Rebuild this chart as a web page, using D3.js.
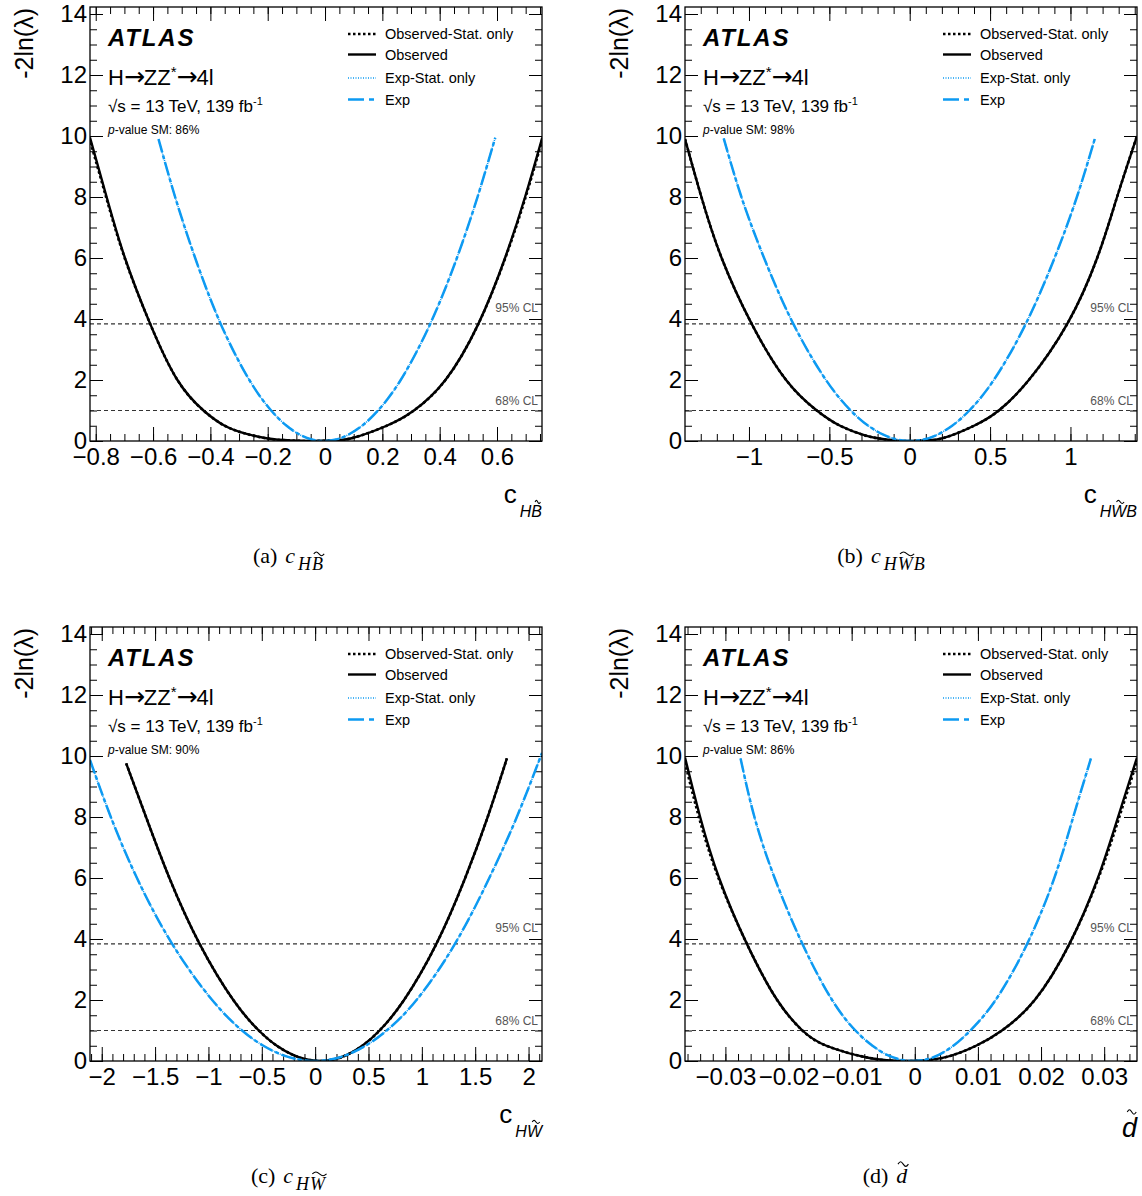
<!DOCTYPE html>
<html><head><meta charset="utf-8">
<script src="https://cdn.jsdelivr.net/npm/d3@7"></script>
<style>body{margin:0;background:#fff} svg{display:block}</style>
</head><body>
<svg id="c" width="1142" height="1196"></svg>
<script>
const SANS = "'Liberation Sans', Arial, Helvetica, sans-serif";
const SERIF = "'Liberation Serif', 'Times New Roman', serif";
const BLUE = "#0d9af2";

// ---------- data: [x, -2ln(lambda)] ----------
// (a) c_HB~
const obsA = [[-0.82,9.95],[-0.762,8],[-0.698,6],[-0.61,3.84],[-0.515,2],[-0.424,1],[-0.35,0.5],[-0.28,0.25],[-0.2,0.08],[-0.12,0.015],[-0.05,0],[0.02,0.012],[0.093,0.09],[0.215,0.5],[0.31,1],[0.42,2],[0.535,3.84],[0.628,6],[0.698,8],[0.758,9.95]];
const obsStatA = [[-0.823,9.95],[-0.764,8],[-0.699,6],[-0.61,3.84],[-0.515,2],[-0.424,1],[-0.35,0.5],[-0.28,0.25],[-0.2,0.08],[-0.12,0.015],[-0.05,0],[0.02,0.012],[0.093,0.09],[0.215,0.5],[0.31,1],[0.42,2],[0.535,3.84],[0.629,6],[0.7,8],[0.76,9.95]];
const expA = [[-0.581,9.9],[-0.523,8],[-0.453,6],[-0.364,3.84],[-0.264,2],[-0.188,1],[-0.134,0.5],[-0.087,0.2],[-0.046,0.05],[-0.005,0],[0.038,0.05],[0.08,0.2],[0.129,0.5],[0.185,1],[0.264,2],[0.367,3.84],[0.46,6],[0.532,8],[0.594,9.95]];
const expStatA = [[-0.581,9.9],[-0.523,8],[-0.453,6],[-0.364,3.84],[-0.264,2],[-0.188,1],[-0.134,0.5],[-0.087,0.2],[-0.046,0.05],[-0.005,0],[0.038,0.05],[0.08,0.2],[0.129,0.5],[0.185,1],[0.264,2],[0.367,3.84],[0.46,6],[0.532,8],[0.594,9.95]];

// (b) c_HW~B
const obsB = [[-1.398,9.9],[-1.296,8],[-1.17,6],[-0.983,3.84],[-0.769,2],[-0.578,1],[-0.433,0.5],[-0.288,0.2],[-0.2,0.09],[-0.1,0.02],[0,0],[0.1,0.022],[0.212,0.1],[0.4,0.5],[0.554,1],[0.741,2],[0.98,3.84],[1.166,6],[1.29,8],[1.414,10]];
const obsStatB = [[-1.398,9.9],[-1.296,8],[-1.17,6],[-0.983,3.84],[-0.769,2],[-0.578,1],[-0.433,0.5],[-0.288,0.2],[-0.2,0.09],[-0.1,0.02],[0,0],[0.1,0.022],[0.212,0.1],[0.4,0.5],[0.554,1],[0.741,2],[0.98,3.84],[1.166,6],[1.29,8],[1.414,10]];
const expB = [[-1.157,9.92],[-1.047,8],[-0.906,6],[-0.724,3.84],[-0.521,2],[-0.367,1],[-0.258,0.5],[-0.161,0.2],[-0.078,0.05],[0.005,0],[0.087,0.05],[0.169,0.2],[0.264,0.5],[0.371,1],[0.523,2],[0.722,3.84],[0.901,6],[1.04,8],[1.152,9.92]];
const expStatB = [[-1.157,9.92],[-1.047,8],[-0.906,6],[-0.724,3.84],[-0.521,2],[-0.367,1],[-0.258,0.5],[-0.161,0.2],[-0.078,0.05],[0.005,0],[0.087,0.05],[0.169,0.2],[0.264,0.5],[0.371,1],[0.523,2],[0.722,3.84],[0.901,6],[1.04,8],[1.152,9.92]];

// (c) c_HW~
const obsC = [[-1.771,9.76],[-1.585,8],[-1.366,6],[-1.083,3.84],[-0.767,2],[-0.528,1],[-0.359,0.5],[-0.208,0.2],[-0.079,0.05],[0.05,0],[0.174,0.05],[0.298,0.2],[0.442,0.5],[0.604,1],[0.833,2],[1.136,3.84],[1.406,6],[1.617,8],[1.797,9.92]];
const obsStatC = [[-1.771,9.76],[-1.585,8],[-1.366,6],[-1.083,3.84],[-0.767,2],[-0.528,1],[-0.359,0.5],[-0.208,0.2],[-0.079,0.05],[0.05,0],[0.174,0.05],[0.298,0.2],[0.442,0.5],[0.604,1],[0.833,2],[1.136,3.84],[1.406,6],[1.617,8],[1.797,9.92]];
const expC = [[-2.11,9.87],[-1.915,8],[-1.67,6],[-1.34,3.84],[-0.965,2],[-0.685,1],[-0.485,0.5],[-0.31,0.2],[-0.155,0.05],[-0.005,0],[0.145,0.05],[0.297,0.2],[0.472,0.5],[0.67,1],[0.95,2],[1.31,3.84],[1.632,6],[1.89,8],[2.126,10.1]];
const expStatC = [[-2.11,9.87],[-1.915,8],[-1.67,6],[-1.34,3.84],[-0.965,2],[-0.685,1],[-0.485,0.5],[-0.31,0.2],[-0.155,0.05],[-0.005,0],[0.145,0.05],[0.297,0.2],[0.472,0.5],[0.67,1],[0.95,2],[1.31,3.84],[1.632,6],[1.89,8],[2.126,10.1]];

// (d) d~
const obsD = [[-0.0364,9.95],[-0.034,8],[-0.031,6],[-0.0266,3.84],[-0.0218,2],[-0.0178,1],[-0.014,0.5],[-0.0072,0.1],[-0.0014,0],[0.0044,0.1],[0.0097,0.5],[0.0138,1],[0.019,2],[0.0245,3.84],[0.029,6],[0.0322,8],[0.0352,9.95]];
const obsStatD = [[-0.0366,9.95],[-0.0342,8],[-0.0311,6],[-0.0266,3.84],[-0.0218,2],[-0.0178,1],[-0.014,0.5],[-0.0072,0.1],[-0.0014,0],[0.0044,0.1],[0.0097,0.5],[0.0138,1],[0.019,2],[0.0245,3.84],[0.0291,6],[0.0324,8],[0.0354,9.95]];
const expD = [[-0.0276,9.92],[-0.0254,8],[-0.0222,6],[-0.0178,3.84],[-0.0131,2],[-0.0094,1],[-0.0067,0.5],[-0.0044,0.2],[-0.0023,0.05],[-0.0003,0],[0.0018,0.05],[0.0038,0.2],[0.0061,0.5],[0.0088,1],[0.0128,2],[0.0178,3.84],[0.0221,6],[0.0251,8],[0.0279,9.92]];
const expStatD = [[-0.0276,9.92],[-0.0254,8],[-0.0222,6],[-0.0178,3.84],[-0.0131,2],[-0.0094,1],[-0.0067,0.5],[-0.0044,0.2],[-0.0023,0.05],[-0.0003,0],[0.0018,0.05],[0.0038,0.2],[0.0061,0.5],[0.0088,1],[0.0128,2],[0.0178,3.84],[0.0221,6],[0.0251,8],[0.0279,9.92]];

const pValues = ["86%", "98%", "90%", "86%"];
const clLevels = [3.84, 1.0];
const clLabels = ["95% CL", "68% CL"];
const legendLabels = ["Observed-Stat. only", "Observed", "Exp-Stat. only", "Exp"];
const yRange = [0, 14.23];

// ---------- layout ----------
const W = 452, H = 434;
const capBase = {size:22, f:SERIF};
const capC = {size:22, f:SERIF, it:1, gap:8};
const sub = (t, extra) => Object.assign({t, size:18, f:SERIF, it:1, dy:7}, extra || {});
const panels = [
  {left:90,  top:7,   xDom:[-0.82,0.757],   major:0.2,  minor:0.05,  obs:obsA, obsStat:obsStatA, exp:expA, expStat:expStatA, p:pValues[0],
   xTitle:[{t:"c",size:26},{t:"H",size:16,it:1,dy:14,gap:3},{t:"B",size:16,it:1,dy:14,tilde:"s"}],
   cap:[Object.assign({t:"(a)"},capBase),Object.assign({t:"c"},capC),sub("H",{gap:3}),sub("B",{gap:1,tilde:"w"})], capX:288},
  {left:685, top:7,   xDom:[-1.398,1.414],  major:0.5,  minor:0.1,   obs:obsB, obsStat:obsStatB, exp:expB, expStat:expStatB, p:pValues[1],
   xTitle:[{t:"c",size:26},{t:"H",size:16,it:1,dy:14,gap:3},{t:"W",size:16,it:1,dy:14,tilde:"s"},{t:"B",size:16,it:1,dy:14}],
   cap:[Object.assign({t:"(b)"},capBase),Object.assign({t:"c"},capC),sub("H",{gap:3}),sub("W",{gap:1,tilde:"w"}),sub("B",{gap:1})], capX:881},
  {left:90,  top:627, xDom:[-2.11,2.126],   major:0.5,  minor:0.1,   obs:obsC, obsStat:obsStatC, exp:expC, expStat:expStatC, p:pValues[2],
   xTitle:[{t:"c",size:26},{t:"H",size:16,it:1,dy:14,gap:3},{t:"W",size:16,it:1,dy:14,tilde:"s"}],
   cap:[Object.assign({t:"(c)"},capBase),Object.assign({t:"c"},capC),sub("H",{gap:3}),sub("W",{gap:1,tilde:"w"})], capX:288},
  {left:685, top:627, xDom:[-0.0364,0.0352],major:0.01, minor:0.002, obs:obsD, obsStat:obsStatD, exp:expD, expStat:expStatD, p:pValues[3],
   xTitle:[{t:"d",size:27,it:1,dy:14,tilde:"d"}],
   cap:[Object.assign({t:"(d)"},capBase),{t:"d",size:22,f:SERIF,it:1,gap:8,tilde:"w"}], capX:885}
];

const svg = d3.select("#c");
const fmt = d3.format("~g");

function ticksOf(dom, step){
  const lo = Math.ceil(dom[0]/step - 1e-9), hi = Math.floor(dom[1]/step + 1e-9);
  return d3.range(lo, hi+1).map(k => +(k*step).toPrecision(10));
}
function tildePath(x0, y0, w, h){
  return `M${x0},${y0} c${w*0.2},${-h} ${w*0.3},${-h} ${w*0.5},0 s${w*0.3},${h} ${w*0.5},0`;
}
function richText(parent, x, y, pieces, anchor){
  const g = parent.append("g");
  let cx = 0;
  pieces.forEach(p => {
    cx += (p.gap || 0);
    const dy = p.dy || 0;
    const t = g.append("text").attr("x", cx).attr("y", dy)
      .style("font-family", p.f || SANS).style("font-size", p.size + "px")
      .style("font-style", p.it ? "italic" : "normal").attr("fill", "#000").text(p.t);
    const w = t.node().getComputedTextLength();
    if (p.tilde){
      let x0, tw, yb, h;
      if (p.tilde === "s"){ tw = w*0.5; x0 = cx + w*0.35; yb = dy - p.size*0.72 - 3.5; h = p.size*0.13; }
      else if (p.tilde === "d"){ tw = w*0.6; x0 = cx + w*0.35; yb = dy - p.size*0.74 - 5; h = p.size*0.11; }
      else { tw = w*0.95; x0 = cx + w*0.15; yb = dy - p.size*0.7 - 3.5; h = p.size*0.14; }
      g.append("path").attr("d", tildePath(x0, yb, tw, h)).attr("fill","none").attr("stroke","#000").attr("stroke-width", 1.1);
    }
    cx += w;
  });
  const shift = anchor === "end" ? -cx : anchor === "middle" ? -cx/2 : 0;
  g.attr("transform", `translate(${x + shift},${y})`);
  return g;
}

panels.forEach((P, i) => {
  const x = d3.scaleLinear().domain(P.xDom).range([0, W]);
  const y = d3.scaleLinear().domain(yRange).range([H, 0]);
  const g = svg.append("g").attr("transform", `translate(${P.left},${P.top})`);
  const clipId = "clip" + i;
  g.append("clipPath").attr("id", clipId).append("rect").attr("width", W).attr("height", H);

  const xMaj = ticksOf(P.xDom, P.major), xMin = ticksOf(P.xDom, P.minor);
  const yMaj = ticksOf(yRange, 2), yMin = ticksOf(yRange, 0.5);
  const styleAxis = sel => { sel.select(".domain").remove(); sel.selectAll("line").attr("stroke","#000").attr("stroke-width",1); };

  g.append("g").attr("transform",`translate(0,${H})`).call(d3.axisBottom(x).tickValues(xMin).tickSize(-7).tickFormat("")).call(styleAxis);
  g.append("g").attr("transform",`translate(0,${H})`).call(d3.axisBottom(x).tickValues(xMaj).tickSize(-14).tickPadding(7).tickFormat(v => v === 0 ? "0" : fmt(v))).call(styleAxis)
    .selectAll("text").style("font-family", SANS).style("font-size","24px").attr("fill","#000");
  g.append("g").call(d3.axisTop(x).tickValues(xMin).tickSize(-7).tickFormat("")).call(styleAxis);
  g.append("g").call(d3.axisTop(x).tickValues(xMaj).tickSize(-14).tickFormat("")).call(styleAxis);

  g.append("g").call(d3.axisLeft(y).tickValues(yMin).tickSize(-7).tickFormat("")).call(styleAxis);
  g.append("g").call(d3.axisLeft(y).tickValues(yMaj).tickSize(-13).tickPadding(3).tickFormat(d3.format("d"))).call(styleAxis)
    .selectAll("text").style("font-family", SANS).style("font-size","24px").attr("fill","#000");
  g.append("g").attr("transform",`translate(${W},0)`).call(d3.axisRight(y).tickValues(yMin).tickSize(-7).tickFormat("")).call(styleAxis);
  g.append("g").attr("transform",`translate(${W},0)`).call(d3.axisRight(y).tickValues(yMaj).tickSize(-13).tickFormat("")).call(styleAxis);

  // CL lines
  clLevels.forEach((lv, k) => {
    g.append("line").attr("x1",0).attr("x2",W).attr("y1",y(lv)).attr("y2",y(lv))
      .attr("stroke","#333").attr("stroke-width",1.2).attr("stroke-dasharray","4,3");
    g.append("text").attr("x", W-4).attr("y", y(k === 0 ? 4.22 : 1.17)).attr("text-anchor","end")
      .style("font-family", SANS).style("font-size","12px").attr("fill","#555").text(clLabels[k]);
  });

  // curves
  const line = d3.line().x(d => x(d[0])).y(d => y(d[1])).curve(d3.curveNatural);
  const cg = g.append("g").attr("clip-path", `url(#${clipId})`);
  cg.append("path").attr("d", line(P.obsStat)).attr("fill","none").attr("stroke","#000").attr("stroke-width",2.6).attr("stroke-dasharray","2.5,2.5");
  cg.append("path").attr("d", line(P.obs)).attr("fill","none").attr("stroke","#000").attr("stroke-width",2.4);
  cg.append("path").attr("d", line(P.expStat)).attr("fill","none").attr("stroke",BLUE).attr("stroke-width",1.6).attr("stroke-dasharray","1,1");
  cg.append("path").attr("d", line(P.exp)).attr("fill","none").attr("stroke",BLUE).attr("stroke-width",2.5).attr("stroke-dasharray","14,3,4,3");

  // frame
  g.append("rect").attr("width", W).attr("height", H).attr("fill","none").attr("stroke","#000").attr("stroke-width",1.3);

  // ATLAS labels
  g.append("text").attr("x",18).attr("y",39).style("font-family",SANS).style("font-size","24px").style("font-weight","bold")
    .style("font-style","italic").style("letter-spacing","1.8px").attr("fill","#000").text("ATLAS");
  const hz = g.append("text").attr("x",18).attr("y",78).style("font-family",SANS).style("font-size","22px").attr("fill","#000");
  hz.append("tspan").text("H");
  hz.append("tspan").style("font-family","'DejaVu Sans', sans-serif").style("font-size","25px").style("letter-spacing","-1px").text("\u2192");
  hz.append("tspan").text("ZZ");
  hz.append("tspan").attr("dy",-8).style("font-size","15px").text("*");
  hz.append("tspan").attr("dy",8).style("font-family","'DejaVu Sans', sans-serif").style("font-size","25px").style("letter-spacing","-1px").text("\u2192");
  hz.append("tspan").text("4l");
  const rs = g.append("text").attr("x",18).attr("y",105).style("font-family",SANS).style("font-size","17px").attr("fill","#000");
  rs.append("tspan").text("\u221As = 13 TeV, 139 fb");
  rs.append("tspan").attr("dy",-7).style("font-size","11px").text("-1");
  const pv = g.append("text").attr("x",18).attr("y",127).style("font-family",SANS).style("font-size","12px").attr("fill","#000");
  pv.append("tspan").style("font-style","italic").text("p");
  pv.append("tspan").text("-value SM: " + P.p);

  // legend
  const rowsLine = [27, 47.5, 71, 92.5], rowsText = [31.5, 53, 76, 98];
  const lstyles = [
    {c:"#000", w:2.6, d:"2.5,2.5"}, {c:"#000", w:2.4, d:null},
    {c:BLUE, w:1.4, d:"1,1.5"}, {c:BLUE, w:2.5, d:"16,5,5,5"}
  ];
  legendLabels.forEach((lab, k) => {
    const s = lstyles[k];
    const ln = g.append("line").attr("x1",258).attr("x2",286).attr("y1",rowsLine[k]).attr("y2",rowsLine[k])
      .attr("stroke", s.c).attr("stroke-width", s.w);
    if (s.d) ln.attr("stroke-dasharray", s.d);
    g.append("text").attr("x",295).attr("y",rowsText[k]).style("font-family",SANS).style("font-size","14.5px").attr("fill","#000").text(lab);
  });

  // y title
  g.append("text").attr("transform",`translate(${-57},1) rotate(-90)`).attr("text-anchor","end")
    .style("font-family",SANS).style("font-size","25px").attr("fill","#000").text("-2ln(\u03BB)");

  // x title
  richText(g, W, H + 62, P.xTitle, "end");

  // caption
  richText(svg, P.capX, P.top + 556, P.cap, "middle");
});
</script>
</body></html>
